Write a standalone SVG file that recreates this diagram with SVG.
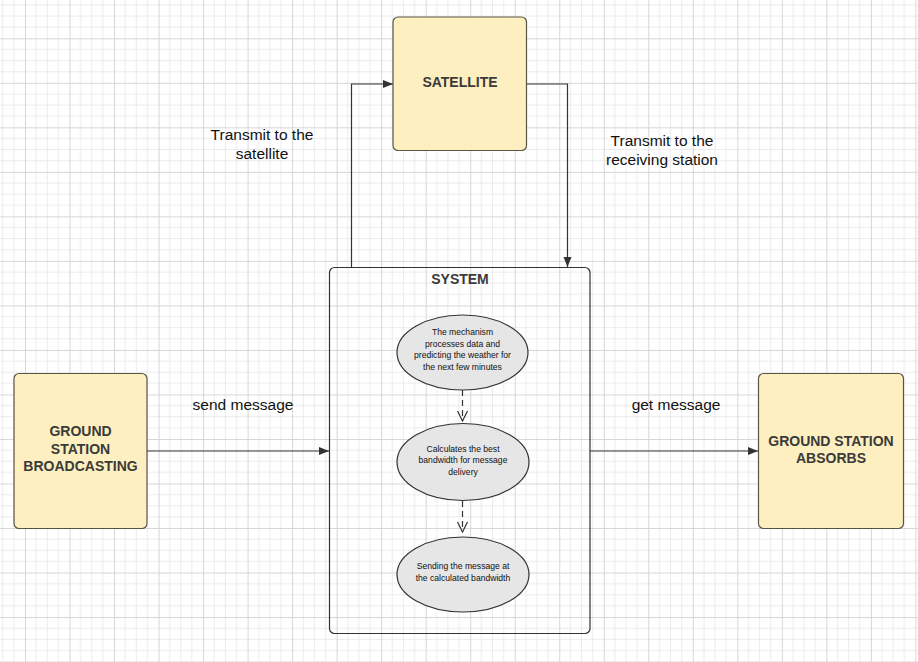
<svg xmlns="http://www.w3.org/2000/svg" width="918" height="662" viewBox="0 0 918 662">
<defs>
<pattern id="grid" patternUnits="userSpaceOnUse" x="25" y="38.3" width="44.52" height="44.52">
<path d="M11.13 0V44.52M22.26 0V44.52M33.39 0V44.52M0 11.13H44.52M0 22.26H44.52M0 33.39H44.52" stroke="#ebebeb" stroke-width="1" fill="none"/>
<path d="M0.5 0V44.52M0 0.5H44.52" stroke="#d6d6d6" stroke-width="1" fill="none"/>
</pattern>
<marker id="arr" viewBox="0 0 10 10" refX="10" refY="5" markerWidth="10" markerHeight="10" markerUnits="userSpaceOnUse" orient="auto">
<path d="M0 1L10 5L0 9Z" fill="#333"/>
</marker>
<marker id="open" viewBox="0 0 12 12" refX="11" refY="6" markerWidth="12" markerHeight="12" markerUnits="userSpaceOnUse" orient="auto">
<path d="M1 1L11 6L1 11" fill="none" stroke="#333" stroke-width="1.2"/>
</marker>
</defs>
<style>
.box{fill:#fdefbf;stroke:#5a5448;stroke-width:1.2}
.ell{fill:#e6e6e6;stroke:#333;stroke-width:1.2}
.sys{fill:none;stroke:#333;stroke-width:1.2}
.conn{fill:none;stroke:#333;stroke-width:1.2}
.dash{fill:none;stroke:#333;stroke-width:1.2;stroke-dasharray:6 4}
.bold{font-family:"Liberation Sans",Arial,sans-serif;font-weight:bold;font-size:14px;fill:#3a3a3a;text-anchor:middle}
.lab{font-family:"Liberation Sans",Arial,sans-serif;font-size:15.5px;fill:#111;text-anchor:middle}
.small{font-family:"Liberation Sans",Arial,sans-serif;font-size:8.6px;fill:#111;text-anchor:middle}
</style>
<rect x="0" y="0" width="918" height="662" fill="#ffffff"/>
<rect x="0" y="0" width="918" height="662" fill="url(#grid)"/>

<g id="connectors">
<path class="conn" d="M147 451H329" marker-end="url(#arr)"/>
<path class="conn" d="M590 451H758" marker-end="url(#arr)"/>
<path class="conn" d="M351.5 267V84H393" marker-end="url(#arr)"/>
<path class="conn" d="M526.5 84H567.5V267" marker-end="url(#arr)"/>
<path class="dash" d="M462.5 390V421" marker-end="url(#open)"/>
<path class="dash" d="M462.5 501V532" marker-end="url(#open)"/>
<text class="lab" x="262" y="140">Transmit to the</text>
<text class="lab" x="262" y="159">satellite</text>
<text class="lab" x="662" y="146">Transmit to the</text>
<text class="lab" x="662" y="165">receiving station</text>
<text class="lab" x="243" y="410">send message</text>
<text class="lab" x="676" y="410">get message</text>
</g>

<g id="system">
<rect class="sys" x="329.5" y="267.5" width="260.5" height="366" rx="5"/>
<text class="bold" x="460" y="284">SYSTEM</text>
</g>

<g id="satellite">
<rect class="box" x="393" y="17" width="133.5" height="133.5" rx="5"/>
<text class="bold" x="460" y="87">SATELLITE</text>
</g>

<g id="ground-broadcasting">
<rect class="box" x="14" y="373.5" width="133" height="155" rx="5"/>
<text class="bold" x="80.5" y="436">GROUND</text>
<text class="bold" x="80.5" y="453.5">STATION</text>
<text class="bold" x="80.5" y="471">BROADCASTING</text>
</g>

<g id="ground-absorbs">
<rect class="box" x="758.5" y="373.5" width="145" height="155" rx="5"/>
<text class="bold" x="831" y="446">GROUND STATION</text>
<text class="bold" x="831" y="463">ABSORBS</text>
</g>

<g id="process">
<ellipse class="ell" cx="462.5" cy="352.5" rx="65.5" ry="37.5"/>
<text class="small" x="462.5" y="335">The mechanism</text>
<text class="small" x="462.5" y="346.7">processes data and</text>
<text class="small" x="462.5" y="358.4">predicting the weather for</text>
<text class="small" x="462.5" y="370">the next few minutes</text>
</g>

<g id="calculate">
<ellipse class="ell" cx="463" cy="462" rx="66" ry="38.5"/>
<text class="small" x="463" y="451.7">Calculates the best</text>
<text class="small" x="463" y="463.3">bandwidth for message</text>
<text class="small" x="463" y="475">delivery</text>
</g>

<g id="send">
<ellipse class="ell" cx="463" cy="574.5" rx="66" ry="37.5"/>
<text class="small" x="463" y="569.3">Sending the message at</text>
<text class="small" x="463" y="581">the calculated bandwidth</text>
</g>
</svg>
